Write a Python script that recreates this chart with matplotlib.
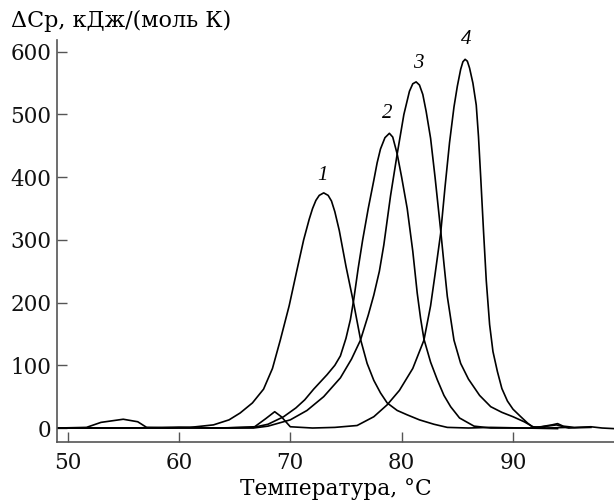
from matplotlib import pyplot as plt

# Температура (°C) и ΔCp (кДж/(моль К))
t1 = [49.1, 51.7, 53.0, 55.0, 56.3, 57.1, 59.0, 61.0, 63.1, 64.5, 65.5, 66.6,
      67.6, 68.4, 69.1, 69.9, 70.6, 71.2, 71.7, 72.0, 72.3, 72.6, 73.0, 73.4,
      73.7, 74.0, 74.4, 75.0, 75.7, 76.3, 76.9, 77.5, 78.1, 78.7, 79.6, 80.5,
      81.6, 82.9, 84.1, 86.0, 88.0, 91.0, 94.0]
cp1 = [0, 1, 9, 14, 10, 1, 0, 1, 5, 13, 24, 40,
       62, 95, 140, 195, 252, 300, 333, 350, 363, 371, 375, 371,
       362, 345, 315, 258, 198, 142, 103, 76, 56, 40, 28, 21,
       13, 6, 1, 0, 1, 0, -1]

t2 = [49.1, 55.0, 60.0, 63.0, 66.7, 68.0, 69.4, 70.5, 71.3, 72.1, 73.3, 74.0,
      74.5, 75.0, 75.4, 75.7, 76.1, 76.5, 77.0, 77.5, 77.8, 78.1, 78.5, 78.9,
      79.2, 79.6, 80.0, 80.5, 81.0, 81.4, 81.7, 82.0, 82.6, 83.2, 83.8, 84.4,
      85.2, 86.5, 88.0, 91.8, 93.9, 95.0, 97.0]
cp2 = [0, 0, 1, 0, 1, 6, 18, 32, 45, 62, 85, 100,
       115, 143, 173, 205, 255, 300, 350, 395, 423, 445, 463, 470,
       464, 437, 400, 350, 282, 215, 175, 142, 105, 77, 52, 34,
       16, 3, 0, 0, 5, 0, 1]

t3 = [49.1, 60.0, 66.7, 68.0, 69.0, 70.0, 71.5, 73.0, 74.5, 75.5, 76.3, 77.0,
      77.5, 78.0, 78.4, 79.0, 79.6, 80.2, 80.7, 81.0, 81.3, 81.6, 81.9, 82.2,
      82.6, 83.0, 83.5, 83.8, 84.1, 84.7, 85.3, 86.0, 87.0, 88.0, 89.0, 90.0,
      91.0, 91.8, 93.0, 95.0]
cp3 = [0, 0, 0, 3, 8, 13, 28, 50, 80, 110, 140, 180,
       212, 250, 292, 370, 437, 500, 537, 549, 552, 547, 532, 505,
       462, 400, 316, 262, 210, 140, 103, 78, 52, 34, 25, 18,
       10, 2, 0, 1]

t4 = [49.1, 55.0, 60.0, 64.0, 66.8, 67.8, 68.6, 69.2, 70.0, 72.0, 74.0, 76.0,
      77.5, 78.7, 79.8, 81.0, 82.0, 82.6, 83.0, 83.5, 83.9, 84.3, 84.7, 85.0,
      85.3, 85.5, 85.7, 85.9, 86.1, 86.4, 86.7, 86.9, 87.1, 87.35, 87.6, 87.9,
      88.2, 88.6, 89.0, 89.5, 90.0, 90.7, 91.3, 91.8, 92.5, 93.5, 94.0, 94.5,
      95.5, 97.0, 98.0, 99.1]
cp4 = [0, 0, 1, 0, 2, 15, 26, 18, 2, 0, 1, 4,
       18, 37, 60, 95, 140, 195, 245, 310, 385, 455, 512, 545,
       572, 584, 588, 585, 574, 550, 515, 465, 400, 315, 235, 165,
       122, 90, 63, 43, 30, 18, 8, 1, 2, 5, 7, 3,
       1, 2, 0, -1]

# номера кривых и их положение
nomera = ["1", "2", "3", "4"]
nomera_t = [72.9, 78.7, 81.5, 85.8]
nomera_cp = [403, 502, 582, 620]


def main():
    plt.rcParams["font.family"] = ["DejaVu Serif"]
    fig = plt.figure(figsize=(6.14, 5.0), dpi=100)
    ax = fig.add_axes([0.093, 0.116, 0.907, 0.804])

    for t, cp in [(t1, cp1), (t2, cp2), (t3, cp3), (t4, cp4)]:
        ax.plot(t, cp, color="black", linewidth=1.2, solid_joinstyle="round")

    for nom, t, cp in zip(nomera, nomera_t, nomera_cp):
        ax.text(t, cp, nom, fontsize=15, style="italic", ha="center",
                va="center", clip_on=False, family="Liberation Serif")

    ax.set_xlim(49.06, 99.07)
    ax.set_ylim(-22.3, 618.8)
    ax.set_xticks([50, 60, 70, 80, 90])
    ax.set_yticks([0, 100, 200, 300, 400, 500, 600])

    for side in ["top", "right"]:
        ax.spines[side].set_visible(False)
    for side in ["left", "bottom"]:
        ax.spines[side].set_color("#555555")
        ax.spines[side].set_linewidth(1.2)

    ax.tick_params(axis="both", direction="in", length=7, width=1,
                   color="#555555", labelsize=15.5, labelcolor="#111111")
    ax.tick_params(axis="x", pad=7)
    ax.tick_params(axis="y", pad=4)

    ax.set_xlabel("Температура, °C", fontsize=15.7, labelpad=3)
    fig.text(0.018, 0.958, "ΔCp, кДж/(моль К)", fontsize=16,
             ha="left", va="center")

    plt.savefig("out.png", dpi=100)


if __name__ == "__main__":
    main()
